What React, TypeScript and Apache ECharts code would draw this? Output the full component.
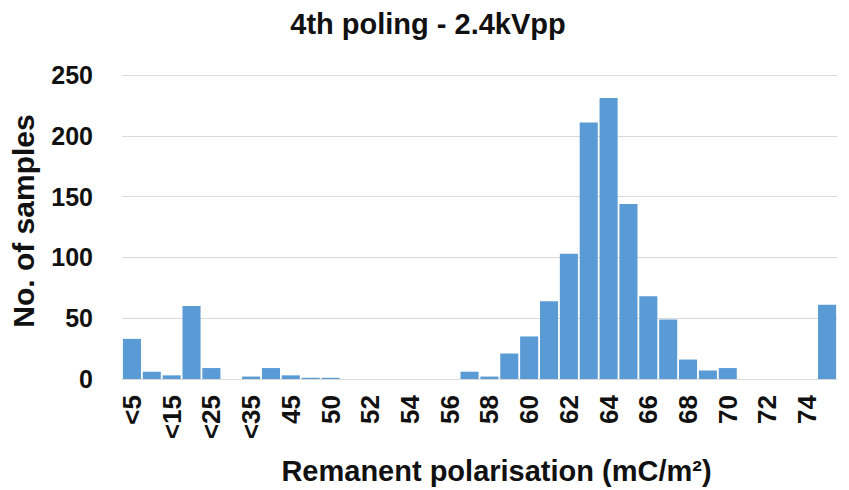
import React, { useEffect, useRef } from "react";
import * as echarts from "echarts";

const categories = [
  "<5", "<10", "<15", "<20", "<25", "<30", "<35", "<40", "45", "48",
  "50", "51", "52", "53", "54", "55", "56", "57", "58", "59",
  "60", "61", "62", "63", "64", "65", "66", "67", "68", "69",
  "70", "71", "72", "73", "74", "75",
];
const counts = [
  33, 6, 3, 60, 9, 0, 2, 9, 3, 1,
  1, 0, 0, 0, 0, 0, 0, 6, 2, 21,
  35, 64, 103, 211, 231, 144, 68, 49, 16, 7,
  9, 0, 0, 0, 0, 61,
];
const yTicks = [0, 50, 100, 150, 200, 250];

const titleText = "4th poling - 2.4kVpp";
const xName = "Remanent polarisation (mC/m²)";
const yName = "No. of samples";

const FONT = "'Liberation Sans', Arial, sans-serif";

export default function App() {
  const ref = useRef<HTMLDivElement>(null);
  useEffect(() => {
    if (!ref.current) return;
    const chart = echarts.init(ref.current, null, { renderer: "svg" });
    chart.setOption({
      animation: false,
      backgroundColor: "#ffffff",
      textStyle: { fontFamily: FONT },
      title: {
        text: titleText,
        left: 423,
        top: 4,
        textAlign: "center",
        textStyle: { fontFamily: FONT, fontSize: 29, fontWeight: "bold", color: "#111" },
      },
      grid: { left: 121, right: 12, top: 75, bottom: 108, containLabel: false },
      xAxis: {
        type: "category",
        data: categories,
        name: xName,
        nameLocation: "middle",
        nameGap: 77,
        nameTextStyle: {
          fontFamily: FONT,
          fontSize: 29,
          fontWeight: "bold",
          color: "#111",
          padding: [0, 0, 0, 34],
        },
        axisLine: { show: true, lineStyle: { color: "#d9d9d9", width: 1 } },
        axisTick: { show: false },
        axisLabel: {
          interval: 1,
          rotate: 90,
          margin: 16,
          fontFamily: FONT,
          fontSize: 26,
          fontWeight: "bold",
          color: "#111",
        },
      },
      yAxis: {
        type: "value",
        min: yTicks[0],
        max: yTicks[yTicks.length - 1],
        interval: 50,
        name: yName,
        nameLocation: "middle",
        nameGap: 84,
        nameRotate: 90,
        nameTextStyle: {
          fontFamily: FONT,
          fontSize: 30,
          fontWeight: "bold",
          color: "#111",
          padding: [0, 0, 0, 12],
        },
        axisLine: { show: false },
        axisTick: { show: false },
        axisLabel: { margin: 29, fontFamily: FONT, fontSize: 25, fontWeight: "bold", color: "#111" },
        splitLine: { lineStyle: { color: "#d9d9d9", width: 1 } },
      },
      series: [
        {
          type: "bar",
          data: counts,
          barCategoryGap: "9%",
          itemStyle: { color: "#5B9BD5" },
        },
      ],
    });
    return () => chart.dispose();
  }, []);
  return (
    <div
      ref={ref}
      style={{ position: "fixed", left: 0, top: 0, width: 849, height: 490 }}
    />
  );
}
